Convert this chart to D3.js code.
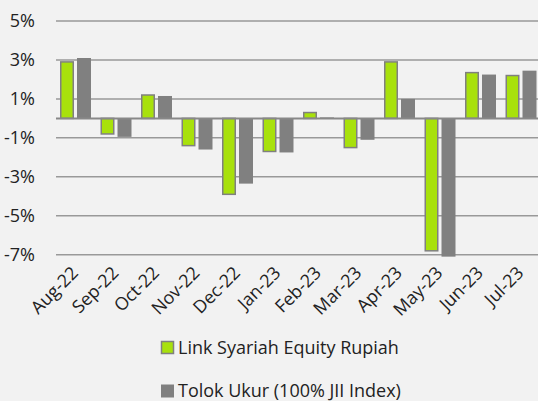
<!DOCTYPE html>
<html><head><meta charset="utf-8">
<script src="https://cdn.jsdelivr.net/npm/d3@7"></script>
<style>html,body{margin:0;padding:0;background:#f2f2f2;}svg{display:block;}</style>
</head><body>
<svg id="c" width="538" height="401"></svg>
<script>
const categories = ["Aug-22","Sep-22","Oct-22","Nov-22","Dec-22","Jan-23","Feb-23","Mar-23","Apr-23","May-23","Jun-23","Jul-23"];
const fundValues = [2.9,-0.8,1.2,-1.4,-3.9,-1.7,0.3,-1.5,2.9,-6.8,2.35,2.2];
const benchValues = [3.1,-0.95,1.15,-1.6,-3.35,-1.75,0.05,-1.1,1.0,-7.1,2.25,2.45];
const seriesNames = ["Link Syariah Equity Rupiah","Tolok Ukur (100% JII Index)"];
const yTicks = [5,3,1,-1,-3,-5,-7];

const svg = d3.select("#c");
const font = "'Open Sans', Lato, sans-serif";
const x = d3.scaleBand().domain(categories).range([56, 542]);
const y = d3.scaleLinear().domain([-7, 5]).range([254.7, 21]);
const bw = 14, gap = 3, off = 4;

// fit font size so a sample text reaches a target width
function fitSize(sample, target, base) {
  const t = svg.append("text").attr("font-family", font).attr("font-size", base).text(sample);
  const w = t.node().getComputedTextLength();
  t.remove();
  return base * target / w;
}
const yFs = fitSize("-7%", 31, 16);
const xFs = fitSize("Aug-22", 58, 14);
const lFs = fitSize(seriesNames[0], 221, 16);

// gridlines
svg.append("g").selectAll("line").data(yTicks).join("line")
  .attr("x1", 56).attr("x2", 538)
  .attr("y1", d => y(d)).attr("y2", d => y(d))
  .attr("stroke", "#999").attr("stroke-width", 1.5);

// y labels
svg.append("g").selectAll("text").data(yTicks).join("text")
  .attr("x", 35).attr("y", d => y(d)).attr("dy", "0.35em")
  .attr("text-anchor", "end").attr("font-family", font).attr("font-size", yFs).attr("fill", "#222")
  .text(d => d + "%");

// bars
const bars = svg.append("g");
bars.selectAll("rect.f").data(fundValues).join("rect").attr("class","f")
  .attr("x", (d,i) => x(categories[i]) + off + 0.75)
  .attr("width", bw - 1.5)
  .attr("y", d => Math.min(y(d), y(0)))
  .attr("height", d => Math.abs(y(d) - y(0)))
  .attr("fill", "#a8e10c").attr("stroke", "#808080").attr("stroke-width", 1.5);
bars.selectAll("rect.b").data(benchValues).join("rect").attr("class","b")
  .attr("x", (d,i) => x(categories[i]) + off + bw + gap)
  .attr("width", bw)
  .attr("y", d => Math.min(y(d), y(0)))
  .attr("height", d => Math.abs(y(d) - y(0)))
  .attr("fill", "#808080");

// zero axis
svg.append("line").attr("x1", 56).attr("x2", 538).attr("y1", y(0)).attr("y2", y(0))
  .attr("stroke", "#888").attr("stroke-width", 2);

// x labels
svg.append("g").selectAll("text").data(categories).join("text")
  .attr("transform", d => `translate(${x(d) + x.bandwidth()/2 + 3},${274}) rotate(-45)`)
  .attr("text-anchor", "end").attr("font-family", font).attr("font-size", xFs).attr("fill", "#222")
  .text(d => d);

// legend
const leg = svg.append("g");
const legY = [347.5, 390.5];
leg.append("rect").attr("x", 161.5).attr("y", legY[0]-6).attr("width", 12).attr("height", 12)
  .attr("fill", "#a8e10c").attr("stroke", "#808080").attr("stroke-width", 1.5);
leg.append("rect").attr("x", 161).attr("y", legY[1]-6).attr("width", 13).attr("height", 13)
  .attr("fill", "#808080");
leg.selectAll("text").data(seriesNames).join("text")
  .attr("x", 178).attr("y", (d,i) => legY[i]).attr("dy", "0.36em")
  .attr("font-family", font).attr("font-size", lFs).attr("fill", "#222")
  .text(d => d);
</script>
</body></html>
